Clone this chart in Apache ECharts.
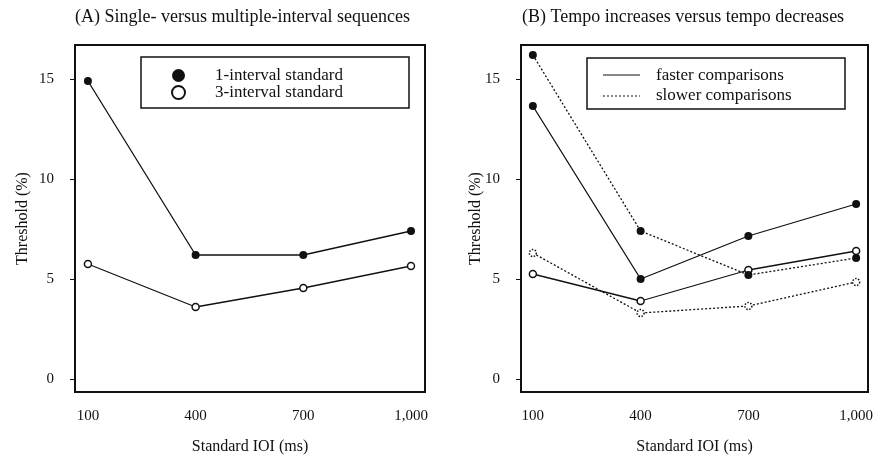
<!DOCTYPE html>
<html>
<head>
<meta charset="utf-8">
<script src="https://cdn.jsdelivr.net/npm/echarts@6/dist/echarts.min.js"></script>
<style>
  html, body { margin: 0; padding: 0; background: #fff; }
  #main { width: 875px; height: 456px; }
</style>
</head>
<body>
<div id="main"></div>
<script>
// standard IOI values (ms) and tick labels
var ioi = [100, 400, 700, 1000];
var yTicks = [0, 5, 10, 15];

// panel A
var oneInterval = [14.9, 6.2, 6.2, 7.4];
var threeInterval = [5.75, 3.6, 4.55, 5.65];

// panel B
var fasterFilled = [13.65, 5.0, 7.15, 8.75];
var fasterOpen = [5.25, 3.9, 5.45, 6.4];
var slowerFilled = [16.2, 7.4, 5.2, 6.05];
var slowerOpen = [6.3, 3.3, 3.65, 4.85];

function pairs(vals) {
  return ioi.map(function (x, i) { return [x, vals[i]]; });
}

var serif = '"Liberation Serif", "DejaVu Serif", serif';
var ink = '#111';

var dom = document.getElementById('main');
var myChart = echarts.init(dom, null, { renderer: 'canvas' });

function xAxisFor(idx, min, max) {
  return {
    type: 'value',
    gridIndex: idx,
    min: min,
    max: max,
    name: 'Standard IOI (ms)',
    nameLocation: 'middle',
    nameGap: 47,
    nameTextStyle: { fontFamily: serif, fontSize: 16, color: ink },
    axisLine: { show: false },
    axisTick: { show: false },
    splitLine: { show: false },
    axisLabel: {
      customValues: ioi,
      margin: 17,
      fontFamily: serif,
      fontSize: 15,
      color: ink,
      formatter: function (v) { return v >= 1000 ? '1,000' : String(v); }
    }
  };
}

function yAxisFor(idx, gap) {
  return {
    type: 'value',
    gridIndex: idx,
    min: -0.65,
    max: 16.7,
    name: 'Threshold (%)',
    nameLocation: 'middle',
    nameGap: gap,
    nameMoveOverlap: false,
    nameTextStyle: { fontFamily: serif, fontSize: 16, color: ink },
    axisLine: { show: false },
    axisTick: { show: true, customValues: yTicks, length: 5, lineStyle: { color: ink, width: 1 } },
    splitLine: { show: false },
    axisLabel: {
      customValues: yTicks,
      margin: 21,
      fontFamily: serif,
      fontSize: 15,
      color: ink
    }
  };
}

function lineSeries(name, xi, vals, dotted, open) {
  return {
    name: name,
    type: 'line',
    xAxisIndex: xi,
    yAxisIndex: xi,
    data: pairs(vals),
    symbol: 'circle',
    symbolSize: open ? 7 : 8,
    lineStyle: { color: ink, width: 1.3, type: dotted ? [2, 2] : 'solid' },
    itemStyle: open
      ? { color: '#fff', borderColor: ink, borderWidth: 1.5, borderType: dotted ? 'dotted' : 'solid' }
      : { color: ink, borderWidth: 0 },
    z: 3
  };
}

var option = {
  animation: false,
  backgroundColor: '#fff',
  title: [
    {
      text: '(A) Single- versus multiple-interval sequences',
      left: 70, top: 3,
      textStyle: { fontFamily: serif, fontSize: 18, fontWeight: 'normal', color: ink }
    },
    {
      text: '(B) Tempo increases versus tempo decreases',
      left: 517, top: 3,
      textStyle: { fontFamily: serif, fontSize: 18, fontWeight: 'normal', color: ink }
    }
  ],
  grid: [
    { left: 75, right: 450, top: 45, bottom: 64, outerBoundsMode: 'none', show: true, borderColor: ink, borderWidth: 2, backgroundColor: 'transparent' },
    { left: 521, right: 7, top: 45, bottom: 64, outerBoundsMode: 'none', show: true, borderColor: ink, borderWidth: 2, backgroundColor: 'transparent' }
  ],
  xAxis: [xAxisFor(0, 64, 1039), xAxisFor(1, 67, 1033)],
  yAxis: [yAxisFor(0, 44), yAxisFor(1, 37)],
  legend: {
    orient: 'vertical',
    left: 166,
    top: 62,
    itemWidth: 13,
    itemHeight: 13,
    itemGap: 0,
    selectedMode: false,
    textStyle: { fontFamily: serif, fontSize: 17, lineHeight: 16, color: ink, padding: [0, 0, 0, 25] },
    data: [
      { name: '1-interval standard', icon: 'circle' },
      { name: '3-interval standard', icon: 'circle' }
    ]
  },
  graphic: [
    { type: 'rect', shape: { x: 141, y: 57, width: 268, height: 51 }, style: { fill: 'none', stroke: ink, lineWidth: 1.5 } },
    { type: 'rect', shape: { x: 587, y: 58, width: 258, height: 51 }, style: { fill: 'none', stroke: ink, lineWidth: 1.5 } },
    { type: 'line', shape: { x1: 603, y1: 75, x2: 640, y2: 75 }, style: { stroke: ink, lineWidth: 1.2 } },
    { type: 'line', shape: { x1: 603, y1: 96, x2: 640, y2: 96 }, style: { stroke: ink, lineWidth: 1.2, lineDash: [2, 2] } },
    { type: 'text', x: 656, y: 76, style: { text: 'faster comparisons', font: '17px ' + serif, fill: ink, verticalAlign: 'middle' } },
    { type: 'text', x: 656, y: 96, style: { text: 'slower comparisons', font: '17px ' + serif, fill: ink, verticalAlign: 'middle' } }
  ],
  series: [
    lineSeries('1-interval standard', 0, oneInterval, false, false),
    lineSeries('3-interval standard', 0, threeInterval, false, true),
    lineSeries('faster comparisons', 1, fasterFilled, false, false),
    lineSeries('faster comparisons ', 1, fasterOpen, false, true),
    lineSeries('slower comparisons', 1, slowerFilled, true, false),
    lineSeries('slower comparisons ', 1, slowerOpen, true, true)
  ]
};

if (option && typeof option === 'object') {
  myChart.setOption(option);
}

window.addEventListener('resize', myChart.resize);
</script>
</body>
</html>
